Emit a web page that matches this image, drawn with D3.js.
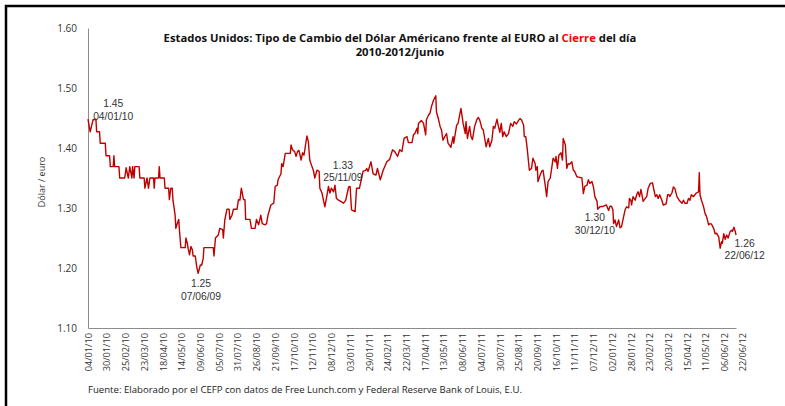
<!DOCTYPE html>
<html>
<head>
<meta charset="utf-8">
<script src="https://cdn.jsdelivr.net/npm/d3@7"></script>
<style>
  body { margin: 0; background: #fff; }
  text { font-family: "Open Sans", "Liberation Sans", Arial, sans-serif; }
</style>
</head>
<body>
<div id="chart"></div>
<script>
// days counted from 04/01/10
const days = [0,3,7,11,12,16,17,24,25,30,31,35,36,37,43,44,51,53,56,58,61,62,64,65,71,72,78,79,82,84,86,91,92,93,98,99,100,106,107,112,113,115,117,118,121,122,124,126,127,129,135,136,138,139,141,143,145,146,149,151,153,156,158,160,161,174,175,177,181,183,187,188,190,193,196,197,200,202,207,209,211,213,216,218,219,225,227,232,234,237,240,242,246,248,250,254,258,260,263,264,268,269,271,274,281,282,284,287,289,291,293,296,298,300,304,306,308,311,313,315,318,321,322,325,327,329,332,334,336,338,341,343,345,348,351,355,358,362,364,366,371,373,377,379,382,386,387,389,393,396,400,402,406,410,415,419,423,426,430,433,436,439,443,445,450,452,454,457,458,459,463,466,469,470,473,475,477,480,483,484,487,489,491,493,496,498,500,504,507,508,512,514,518,521,524,525,527,530,532,534,537,540,542,544,547,549,553,556,558,561,563,565,568,570,572,574,576,578,581,584,587,590,592,595,598,600,602,605,606,608,610,613,616,618,621,622,624,625,628,630,632,635,637,639,642,644,646,649,650,652,654,657,659,660,663,665,667,669,672,674,676,679,683,686,688,690,693,695,697,700,702,704,707,708,711,716,720,723,725,727,729,730,732,734,737,739,741,744,746,748,751,752,754,755,757,760,762,764,766,768,771,774,776,778,781,784,786,788,790,792,794,797,799,803,805,807,808,811,813,815,818,821,825,827,829,832,834,836,838,841,843,845,848,849,850,852,855,857,859,862,864,866,869,871,873,876,878,880,881,883,885,887,889,892,894,895,897,899,900]
const rate = [1.448,1.427,1.447,1.448,1.427,1.427,1.408,1.408,1.387,1.387,1.369,1.369,1.387,1.369,1.369,1.350,1.350,1.367,1.350,1.369,1.350,1.369,1.350,1.369,1.369,1.350,1.350,1.333,1.350,1.333,1.350,1.350,1.333,1.350,1.350,1.369,1.350,1.350,1.333,1.333,1.314,1.333,1.333,1.313,1.288,1.266,1.274,1.281,1.263,1.234,1.234,1.250,1.241,1.233,1.222,1.236,1.230,1.220,1.220,1.202,1.191,1.205,1.205,1.216,1.234,1.234,1.220,1.250,1.255,1.266,1.264,1.250,1.280,1.298,1.298,1.281,1.288,1.298,1.298,1.314,1.313,1.333,1.314,1.314,1.281,1.281,1.266,1.266,1.281,1.272,1.288,1.274,1.272,1.274,1.288,1.305,1.308,1.336,1.338,1.347,1.357,1.374,1.369,1.391,1.391,1.405,1.397,1.394,1.386,1.394,1.396,1.380,1.392,1.388,1.420,1.411,1.380,1.369,1.363,1.350,1.363,1.361,1.333,1.325,1.313,1.302,1.322,1.336,1.325,1.333,1.327,1.338,1.316,1.313,1.311,1.308,1.313,1.335,1.336,1.297,1.294,1.333,1.333,1.344,1.361,1.363,1.366,1.361,1.377,1.357,1.355,1.366,1.347,1.363,1.377,1.381,1.397,1.394,1.386,1.397,1.394,1.416,1.419,1.409,1.409,1.422,1.424,1.433,1.424,1.441,1.446,1.441,1.422,1.447,1.455,1.458,1.469,1.480,1.487,1.460,1.447,1.436,1.430,1.413,1.420,1.424,1.408,1.401,1.419,1.408,1.438,1.441,1.466,1.441,1.424,1.444,1.416,1.436,1.419,1.414,1.436,1.447,1.451,1.447,1.433,1.430,1.402,1.416,1.402,1.413,1.436,1.433,1.448,1.436,1.426,1.441,1.419,1.427,1.419,1.424,1.441,1.436,1.444,1.440,1.446,1.449,1.447,1.438,1.419,1.419,1.399,1.363,1.366,1.383,1.374,1.363,1.369,1.344,1.355,1.361,1.363,1.338,1.319,1.344,1.350,1.366,1.383,1.377,1.386,1.366,1.388,1.392,1.380,1.416,1.405,1.366,1.374,1.373,1.377,1.363,1.361,1.352,1.351,1.350,1.324,1.336,1.338,1.347,1.341,1.344,1.335,1.319,1.311,1.298,1.302,1.303,1.305,1.296,1.303,1.303,1.297,1.274,1.280,1.269,1.280,1.267,1.269,1.286,1.297,1.302,1.300,1.316,1.313,1.305,1.319,1.313,1.322,1.327,1.319,1.331,1.311,1.316,1.319,1.333,1.341,1.342,1.330,1.319,1.322,1.316,1.322,1.313,1.305,1.307,1.322,1.322,1.319,1.325,1.335,1.333,1.319,1.313,1.308,1.313,1.308,1.308,1.316,1.313,1.322,1.319,1.322,1.325,1.327,1.359,1.322,1.313,1.302,1.291,1.286,1.272,1.274,1.273,1.266,1.257,1.258,1.252,1.233,1.244,1.241,1.257,1.248,1.255,1.250,1.261,1.263,1.261,1.268,1.261,1.255]

const tickLabels = ["04/01/10","30/01/10","25/02/10","23/03/10","18/04/10","14/05/10","09/06/10","05/07/10","31/07/10","26/08/10","21/09/10","17/10/10","12/11/10","08/12/10","03/01/11","29/01/11","24/02/11","22/03/11","17/04/11","13/05/11","08/06/11","04/07/11","30/07/11","25/08/11","20/09/11","16/10/11","11/11/11","07/12/11","02/01/12","28/01/12","23/02/12","20/03/12","15/04/12","11/05/12","06/06/12","22/06/12"]
const yTicks = [1.10, 1.20, 1.30, 1.40, 1.50, 1.60]

// data labels as they appear on the chart (anchor = day, rate)
const noteValue = ["1.45", "1.25", "1.33", "1.30", "1.26"]
const noteDate = ["04/01/10", "07/06/09", "25/11/09", "30/12/10", "22/06/12"]
const noteDay = [35, 157, 354, 704, 912]
const noteRate = [1.468, 1.168, 1.365, 1.278, 1.235]

var width = 785
var height = 406
var margin = {top: 28, right: 49, bottom: 78, left: 88}

const parse = d3.timeParse("%d/%m/%y")
const start = parse(tickLabels[0])
const data = days.map((d, i) => ({date: d3.timeDay.offset(start, d), v: rate[i]}))

var svg = d3.select("#chart")
    .append("svg")
        .attr("width", width)
        .attr("height", height)

// outer frame (only top and left edges show in the picture)
svg.append("path")
    .attr("d", `M6,${height} V6 H${width}`)
    .attr("fill", "none")
    .attr("stroke", "#000")
    .attr("stroke-width", 2.5)

const x = d3.scaleTime()
    .domain([start, parse(tickLabels[tickLabels.length - 1])])
    .range([margin.left, width - margin.right])

const y = d3.scaleLinear()
    .domain([1.10, 1.60])
    .range([height - margin.bottom, margin.top])

// y axis
const gy = svg.append("g")
    .attr("transform", `translate(${margin.left},0)`)
    .call(d3.axisLeft(y).tickValues(yTicks).tickFormat(d3.format(".2f")).tickSize(0).tickPadding(11))
gy.select(".domain").attr("stroke", "#8c8c8c")
gy.selectAll("text")
    .style("font-size", "10px")
    .style("font-family", "'Open Sans', sans-serif")
    .attr("fill", "#333")

// x axis
const gx = svg.append("g")
    .attr("transform", `translate(0,${height - margin.bottom})`)
    .call(d3.axisBottom(x).tickValues(tickLabels.map(parse)).tickFormat(d3.timeFormat("%d/%m/%y")).tickSize(0))
gx.select(".domain").attr("stroke", "#8c8c8c")
gx.selectAll("text")
    .style("font-size", "9.2px")
    .style("font-family", "'Open Sans', sans-serif")
    .attr("fill", "#333")
    .attr("text-anchor", "end")
    .attr("transform", "translate(0,5) rotate(-90)")
    .attr("x", 0)
    .attr("y", 0)
    .attr("dy", "0.35em")
// the last label sits a little right of the line end
gx.selectAll(".tick").filter((d, i) => i == tickLabels.length - 1)
    .select("text").attr("transform", "translate(6,5) rotate(-90)")

// y axis title
svg.append("text")
    .attr("transform", `translate(45,182) rotate(-90)`)
    .attr("text-anchor", "middle")
    .style("font-size", "9px")
    .attr("fill", "#333")
    .text("Dólar / euro")

// series
svg.append("path")
    .datum(data)
    .attr("fill", "none")
    .attr("stroke", "#c00000")
    .attr("stroke-width", 1.4)
    .attr("stroke-linejoin", "round")
    .attr("d", d3.line().x(d => x(d.date)).y(d => y(d.v)))

// data labels, two stacked lines each
noteValue.forEach(function(t, i) {
    var nx = x(d3.timeDay.offset(start, noteDay[i]))
    var ny = y(noteRate[i])
    svg.append("text")
        .attr("x", nx)
        .attr("y", ny)
        .attr("text-anchor", "middle")
        .style("font-family", "'Liberation Sans', Arial, sans-serif")
        .style("font-size", "10.3px")
        .attr("fill", "#333")
        .text(t)
    svg.append("text")
        .attr("x", nx)
        .attr("y", ny + 12.3)
        .attr("text-anchor", "middle")
        .style("font-family", "'Liberation Sans', Arial, sans-serif")
        .style("font-size", "10.3px")
        .attr("fill", "#333")
        .text(noteDate[i])
})

// title
var title = svg.append("text")
    .attr("text-anchor", "middle")
    .style("font-size", "11.3px")
    .style("font-weight", "bold")
    .attr("fill", "#111")
title.append("tspan").attr("x", 400).attr("y", 42).text("Estados Unidos: Tipo de Cambio del Dólar Américano frente al EURO al ")
title.append("tspan").attr("fill", "#ff0000").text("Cierre")
title.append("tspan").text(" del día")
svg.append("text")
    .attr("x", 400)
    .attr("y", 56)
    .attr("text-anchor", "middle")
    .style("font-size", "11.3px")
    .style("font-weight", "bold")
    .attr("fill", "#111")
    .text("2010-2012/junio")

// source
svg.append("text")
    .attr("x", 88)
    .attr("y", 393)
    .style("font-size", "9.6px")
    .attr("fill", "#222")
    .text("Fuente: Elaborado por el CEFP con datos de Free Lunch.com y Federal Reserve Bank of Louis, E.U.")
</script>
</body>
</html>
